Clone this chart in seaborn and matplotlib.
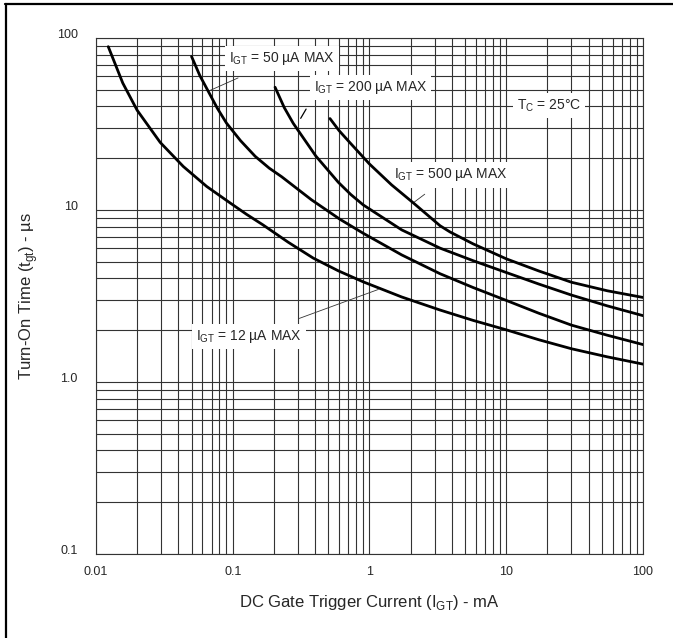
import numpy as np
import pandas as pd
import matplotlib
matplotlib.use('Agg')
import matplotlib.pyplot as plt
import matplotlib.transforms as mtransforms
from matplotlib.lines import Line2D
import seaborn as sns

# =========================
# DATA (x = mA, y = us)
# =========================
igt_12_x = [0.0123, 0.0157, 0.02, 0.0295, 0.0435, 0.0645, 0.0955, 0.126, 0.166, 0.254,
            0.388, 0.591, 0.9, 1.72, 3.28, 5.73, 10, 17.3, 30, 54.8, 100]
igt_12_y = [89, 54.7, 38, 24.7, 17.9, 13.7, 11.0, 9.44, 8.2, 6.5,
            5.25, 4.43, 3.82, 3.12, 2.62, 2.28, 2.01, 1.76, 1.56, 1.40, 1.27]

igt_50_x = [0.05, 0.0575, 0.0662, 0.0772, 0.09, 0.114, 0.146, 0.185, 0.228, 0.377,
            0.608, 0.9, 1.72, 3.28, 5.73, 10, 17.3, 30, 54.8, 100]
igt_50_y = [78, 60.4, 49, 39.0, 32, 25.3, 20.5, 17.5, 15.6, 11.45,
            8.83, 7.32, 5.48, 4.26, 3.54, 2.98, 2.51, 2.14, 1.87, 1.65]

igt_200_x = [0.204, 0.238, 0.277, 0.405, 0.591, 0.73, 0.9, 1.72, 3.28, 5.73,
             10, 17.3, 30, 54.8, 100]
igt_200_y = [51.7, 39.4, 31.9, 20.6, 14.5, 12.3, 10.7, 7.66, 6.0, 5.07,
             4.33, 3.71, 3.2, 2.77, 2.43]

igt_500_x = [0.514, 0.6, 0.72, 1.0, 1.45, 2.09, 3.28, 3.88, 5.73, 10,
             17.3, 30, 54.8, 100]
igt_500_y = [34, 28.9, 24.6, 18.5, 14.0, 11.0, 8.1, 7.45, 6.35, 5.2,
             4.42, 3.8, 3.39, 3.1]

curve_names = ['12', '50', '200', '500']
curve_x = [igt_12_x, igt_50_x, igt_200_x, igt_500_x]
curve_y = [igt_12_y, igt_50_y, igt_200_y, igt_500_y]

xticks = [0.01, 0.1, 1, 10, 100]
xticklabels = ['0.01', '0.1', '1', '10', '100']
yticks = [0.1, 1, 10, 100]
yticklabels = ['0.1', '1.0', '10', '100']

rows = []
for name, xs, ys in zip(curve_names, curve_x, curve_y):
    for xv, yv in zip(xs, ys):
        rows.append({'curve': name, 'igt': xv, 'tgt': yv})
df = pd.DataFrame(rows)

# =========================
# PLOT
# =========================
sns.set_style('white')
plt.rcParams['font.family'] = ['Liberation Sans', 'DejaVu Sans']
plt.rcParams['mathtext.fontset'] = 'custom'
plt.rcParams['mathtext.rm'] = 'Liberation Sans'

fig = plt.figure(figsize=(6.73, 6.38), dpi=100)
ax = fig.add_axes([0.1426, 0.1317, 0.8128, 0.8088])

sns.lineplot(data=df, x='igt', y='tgt', units='curve', estimator=None,
             color='black', lw=2.0, sort=False, ax=ax, zorder=5)

ax.set_xscale('log')
ax.set_yscale('log')
ax.set_xlim(0.01, 100)
ax.set_ylim(0.1, 100)

ax.grid(True, which='both', color='#333333', lw=0.8)
ax.tick_params(which='both', length=0)
for sp in ax.spines.values():
    sp.set_color('#333333')
    sp.set_linewidth(0.8)

ax.set_xticks(xticks)
ax.set_xticklabels(xticklabels, fontsize=9)
ax.set_yticks(yticks)
ax.set_yticklabels(yticklabels, fontsize=9)
ax.tick_params(axis='x', pad=9)
ax.tick_params(axis='y', pad=13)
up = mtransforms.ScaledTranslation(0, 4 / 100, fig.dpi_scale_trans)
for lbl in ax.get_yticklabels():
    lbl.set_transform(lbl.get_transform() + up)

ax.set_xlabel(r'DC Gate Trigger Current (I$_{\mathregular{GT}}$) - mA', fontsize=12)
ax.set_ylabel(r'Turn-On Time (t$_{\mathregular{gt}}$) - µs', fontsize=12)
ax.xaxis.label.set_va('center')
ax.yaxis.label.set_va('center')
ax.xaxis.set_label_coords(0.5, -0.095)
ax.yaxis.set_label_coords(-0.124, 0.5)

# =========================
# LABELS
# =========================
box = dict(facecolor='white', edgecolor='none', pad=3)
lab_kw = dict(fontsize=10, ha='center', va='center', bbox=box, zorder=4)

ax.annotate(r'I$_{\mathregular{GT}}$ = 50 µA MAX', xy=(0.0662, 49), xytext=(0.228, 76),
            arrowprops=dict(arrowstyle='-', lw=0.6, color='#333333', shrinkA=12, shrinkB=0),
            **lab_kw)
ax.text(1.017, 51.7, r'I$_{\mathregular{GT}}$ = 200 µA MAX', **lab_kw)
ax.plot([0.314, 0.344], [34.1, 38.6], color='black', lw=0.9, zorder=5)
ax.text(20.6, 40.3, r'T$_{\mathregular{C}}$ = 25°C', **lab_kw)
ax.annotate(r'I$_{\mathregular{GT}}$ = 500 µA MAX', xy=(2.09, 11.0), xytext=(3.91, 16.0),
            arrowprops=dict(arrowstyle='-', lw=0.6, color='#333333', shrinkA=8, shrinkB=0),
            **lab_kw)
ax.annotate(r'I$_{\mathregular{GT}}$ = 12 µA MAX', xy=(1.16, 3.45), xytext=(0.1315, 1.83),
            arrowprops=dict(arrowstyle='-', lw=0.6, color='#333333', shrinkA=12, shrinkB=0),
            **lab_kw)

# figure frame (top and left edge only)
fig.add_artist(Line2D([0.008, 1], [0.9937, 0.9937], color='black', lw=1.6, transform=fig.transFigure))
fig.add_artist(Line2D([0.009, 0.009], [0, 0.9937], color='black', lw=1.6, transform=fig.transFigure))

plt.savefig('out.png', dpi=100)
